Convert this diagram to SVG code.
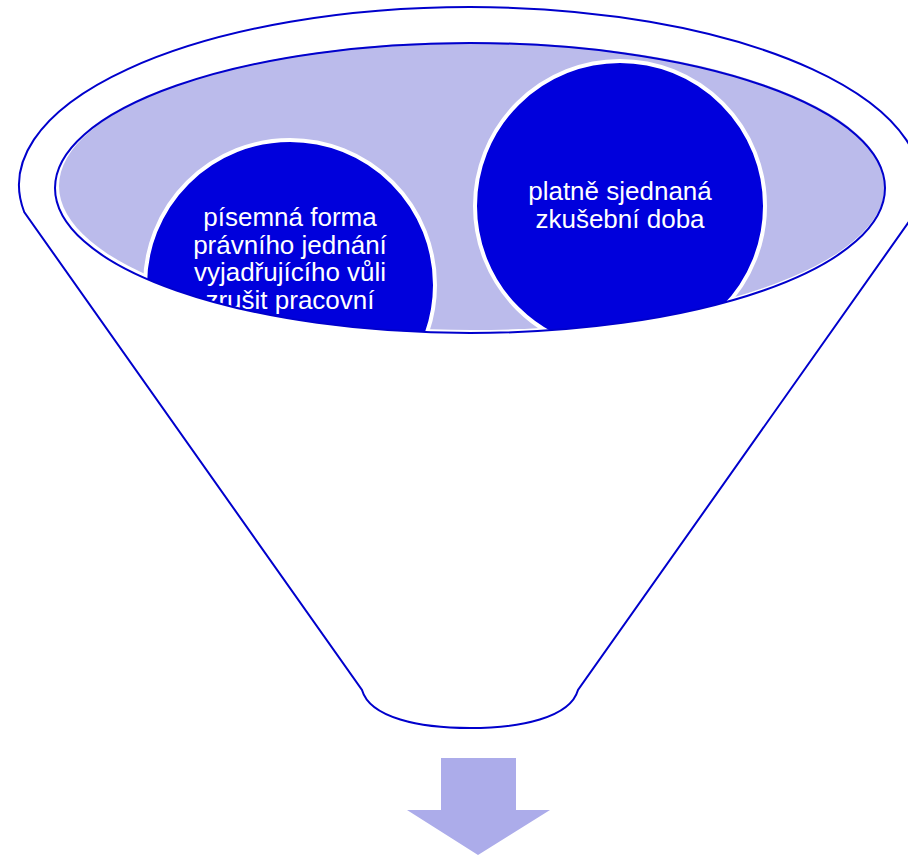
<svg xmlns="http://www.w3.org/2000/svg" width="908" height="857" viewBox="0 0 908 857">
  <style>
    .edge { fill: none; stroke: #0000cc; stroke-width: 2; }
    .bubble { fill: #0000dc; stroke: #ffffff; stroke-width: 4; }
    .label { font-family: "Liberation Sans", Arial, sans-serif; font-size: 26px; fill: #ffffff; text-anchor: middle; }
  </style>
  <defs>
    <clipPath id="mouth">
      <ellipse cx="470" cy="188" rx="415" ry="145"/>
    </clipPath>
  </defs>
  <g id="funnel">
    <path d="M 24.2 212 A 451 178 0 1 1 915.8 212 L 578 690 C 570 718 520 728 470 728 C 420 728 370 718 362 690 Z" fill="#ffffff" stroke="#0000cc" stroke-width="2"/>
    <ellipse cx="472" cy="186" rx="413" ry="144" fill="#bbbbeb"/>
  </g>
  <g clip-path="url(#mouth)">
    <g id="node-1">
      <circle class="bubble" cx="290" cy="285" r="145"/>
      <text class="label" x="290" y="226">písemná forma</text>
      <text class="label" x="290" y="253.5">právního jednání</text>
      <text class="label" x="290" y="281">vyjadřujícího vůli</text>
      <text class="label" x="290" y="308.5">zrušit pracovní</text>
    </g>
    <g id="node-2">
      <circle class="bubble" cx="620" cy="206" r="145"/>
      <text class="label" x="620" y="200">platně sjednaná</text>
      <text class="label" x="620" y="227.5">zkušební doba</text>
    </g>
  </g>
  <g id="connectors">
    <ellipse class="edge" cx="470" cy="188" rx="415" ry="145"/>
    <polygon id="arrow" points="441,758 516,758 516,810 550,810 478,855 407,810 441,810" fill="#acacea"/>
  </g>
</svg>
